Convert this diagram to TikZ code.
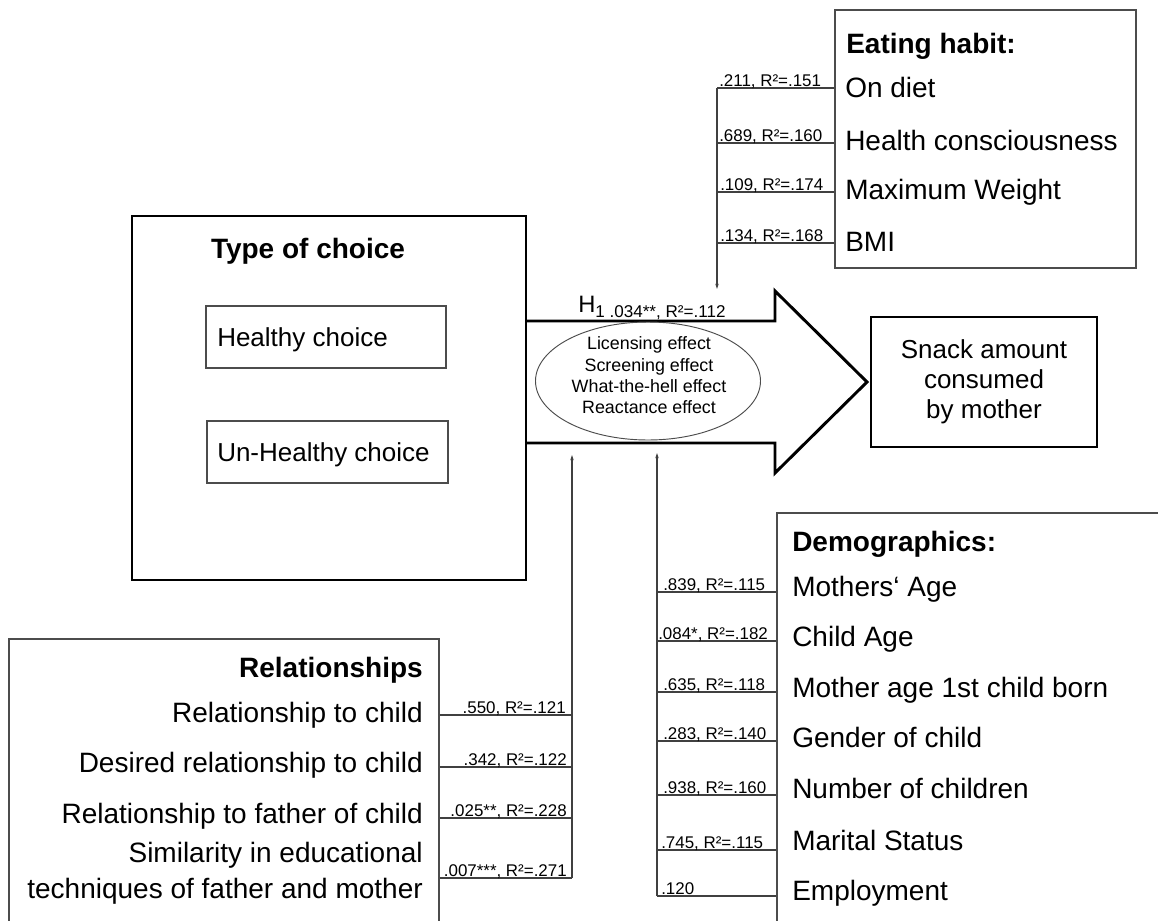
\documentclass[tikz,border=0pt]{standalone}
\usepackage{fontspec}
\setmainfont{Liberation Sans}
\usetikzlibrary{shapes.geometric,arrows.meta}
\begin{document}
\begin{tikzpicture}[x=0.75pt,y=-0.75pt,
  thinbox/.style={draw=black!70,line width=0.8pt,inner sep=0pt},
  thickbox/.style={draw=black,line width=2.2pt,inner sep=0pt},
  conn/.style={draw=black!75,line width=0.8pt},
  upconn/.style={conn,-{Stealth[length=4pt,width=2.6pt]}},
  item/.style={font=\fontsize{21}{25}\selectfont,inner sep=0pt},
  ttl/.style={font=\fontsize{21}{25}\selectfont\bfseries,inner sep=0pt},
  lab/.style={font=\fontsize{12.7}{15}\selectfont,inner sep=0pt},
  choice/.style={font=\fontsize{19.5}{23}\selectfont,inner sep=0pt},
  eff/.style={font=\fontsize{13.4}{16}\selectfont,inner sep=0pt,align=center},
]
\useasboundingbox (0,0) rectangle (1158,921);
\fill[white] (0,0) rectangle (1158,921);

% ---------- Eating habit ----------
\node[thinbox,minimum width=225.75pt,minimum height=193.5pt] (eat) at (985.5,139) {};
\node[ttl,anchor=base west] (eatt) at (846,53) {Eating habit:};
\node[item,anchor=base west] (e1t) at (845,97) {On diet};
\node[item,anchor=base west] (e2t) at (845,150) {Health consciousness};
\node[item,anchor=base west] (e3t) at (845,199) {Maximum Weight};
\node[item,anchor=base west] (e4t) at (845,251) {BMI};
\coordinate (e1) at (717,88);
\coordinate (e2) at (717,143);
\coordinate (e3) at (717,192);
\coordinate (e4) at (717,243);
\coordinate (etip) at (717,289);
\draw[conn] (e1 -| eat.west) -- (e1);
\draw[conn] (e2 -| eat.west) -- (e2);
\draw[conn] (e3 -| eat.west) -- (e3);
\draw[conn] (e4 -| eat.west) -- (e4);
\draw[upconn] (e1) -- (etip);
\node[lab,anchor=base west] (e1l) at (719,86) {.211, R²=.151};
\node[lab,anchor=base west] (e2l) at (719,141) {.689, R²=.160};
\node[lab,anchor=base west] (e3l) at (720,190) {.109, R²=.174};
\node[lab,anchor=base west] (e4l) at (720,241) {.134, R²=.168};

% ---------- Type of choice ----------
\node[thickbox,minimum width=295.5pt,minimum height=273pt] (type) at (329,398) {};
\node[ttl,anchor=base] (typet) at (308,258) {Type of choice};
\node[thinbox,minimum width=180pt,minimum height=46.5pt] (healthy) at (326,337) {};
\node[choice,anchor=base west] (healthyt) at (217,346) {Healthy choice};
\node[thinbox,minimum width=180.75pt,minimum height=46.5pt] (unhealthy) at (327.5,452) {};
\node[choice,anchor=base west] (unhealthyt) at (217,461) {Un-Healthy choice};

% ---------- big arrow ----------
\coordinate (a1) at (526,321);
\coordinate (a2) at (775,321);
\coordinate (a3) at (775,291);
\coordinate (a4) at (867,382);
\coordinate (a5) at (775,473);
\coordinate (a6) at (775,443);
\coordinate (a7) at (526,443);
\draw[line width=2.2pt,line join=miter] (a1) -- (a2) -- (a3) -- (a4) -- (a5) -- (a6) -- (a7);
\node[draw=black!70,line width=0.7pt,ellipse,minimum width=168.75pt,minimum height=88.5pt,inner sep=0pt] (ell) at (648,381) {};
\node[eff,anchor=center] (efft) at (649,375.5) {Licensing effect\\Screening effect\\What-the-hell effect\\Reactance effect};
\node[anchor=base west,inner sep=0pt] (h1) at (578,312) {{\fontsize{17.8}{20}\selectfont H}\raisebox{-3.75pt}{\fontsize{12.8}{15}\selectfont 1 .034**, R²=.112}};

% ---------- Snack ----------
\node[thickbox,minimum width=169.5pt,minimum height=97.5pt,align=center,font=\fontsize{19.5}{22.5}\selectfont] (snack) at (984,382) {Snack amount\\consumed\\by mother};

% ---------- Relationships ----------
\node[thinbox,minimum width=322.5pt,minimum height=225pt] (rel) at (224,789) {};
\node[ttl,anchor=base east] (relt) at (423,677) {Relationships};
\node[item,anchor=base east] (r1t) at (423,722) {Relationship to child};
\node[item,anchor=base east] (r2t) at (423,772) {Desired relationship to child};
\node[item,anchor=base east] (r3t) at (423,823) {Relationship to father of child};
\node[item,anchor=base east] (r4t) at (423,862) {Similarity in educational};
\node[item,anchor=base east] (r5t) at (423,898) {techniques of father and mother};
\coordinate (r1) at (572,715);
\coordinate (r2) at (572,767);
\coordinate (r3) at (572,818);
\coordinate (r4) at (572,878);
\coordinate (rtip) at (572,455);
\draw[conn] (r1 -| rel.east) -- (r1);
\draw[conn] (r2 -| rel.east) -- (r2);
\draw[conn] (r3 -| rel.east) -- (r3);
\draw[conn] (r4 -| rel.east) -- (r4);
\draw[upconn] (r4) -- (rtip);
\node[lab,anchor=base east] (r1l) at (566,713) {.550, R²=.121};
\node[lab,anchor=base east] (r2l) at (567,765) {.342, R²=.122};
\node[lab,anchor=base east] (r3l) at (567,816) {.025**, R²=.228};
\node[lab,anchor=base east] (r4l) at (567,876) {.007***, R²=.271};

% ---------- Demographics ----------
\node[thinbox,minimum width=298.5pt,minimum height=315pt] (dem) at (976,723) {};
\node[ttl,anchor=base west] (demt) at (792,551) {Demographics:};
\node[item,anchor=base west] (d1t) at (792,596) {Mothers‘ Age};
\node[item,anchor=base west] (d2t) at (792,646) {Child Age};
\node[item,anchor=base west] (d3t) at (792,697) {Mother age 1st child born};
\node[item,anchor=base west] (d4t) at (792,747) {Gender of child};
\node[item,anchor=base west] (d5t) at (792,798) {Number of children};
\node[item,anchor=base west] (d6t) at (792,850) {Marital Status};
\node[item,anchor=base west] (d7t) at (792,900) {Employment};
\coordinate (d1) at (657,592);
\coordinate (d2) at (657,641);
\coordinate (d3) at (657,692);
\coordinate (d4) at (657,741);
\coordinate (d5) at (657,795);
\coordinate (d6) at (657,850);
\coordinate (d7) at (657,896);
\coordinate (dtip) at (657,453);
\draw[conn] (d1 -| dem.west) -- (d1);
\draw[conn] (d2 -| dem.west) -- (d2);
\draw[conn] (d3 -| dem.west) -- (d3);
\draw[conn] (d4 -| dem.west) -- (d4);
\draw[conn] (d5 -| dem.west) -- (d5);
\draw[conn] (d6 -| dem.west) -- (d6);
\draw[conn] (d7 -| dem.west) -- (d7);
\draw[upconn] (d7) -- (dtip);
\node[lab,anchor=base west] (d1l) at (663,590) {.839, R²=.115};
\node[lab,anchor=base west] (d2l) at (658,639) {.084*, R²=.182};
\node[lab,anchor=base west] (d3l) at (663,690) {.635, R²=.118};
\node[lab,anchor=base west] (d4l) at (663,739) {.283, R²=.140};
\node[lab,anchor=base west] (d5l) at (663,793) {.938, R²=.160};
\node[lab,anchor=base west] (d6l) at (661,848) {.745, R²=.115};
\node[lab,anchor=base west] (d7l) at (661,894) {.120};
\end{tikzpicture}
\end{document}
